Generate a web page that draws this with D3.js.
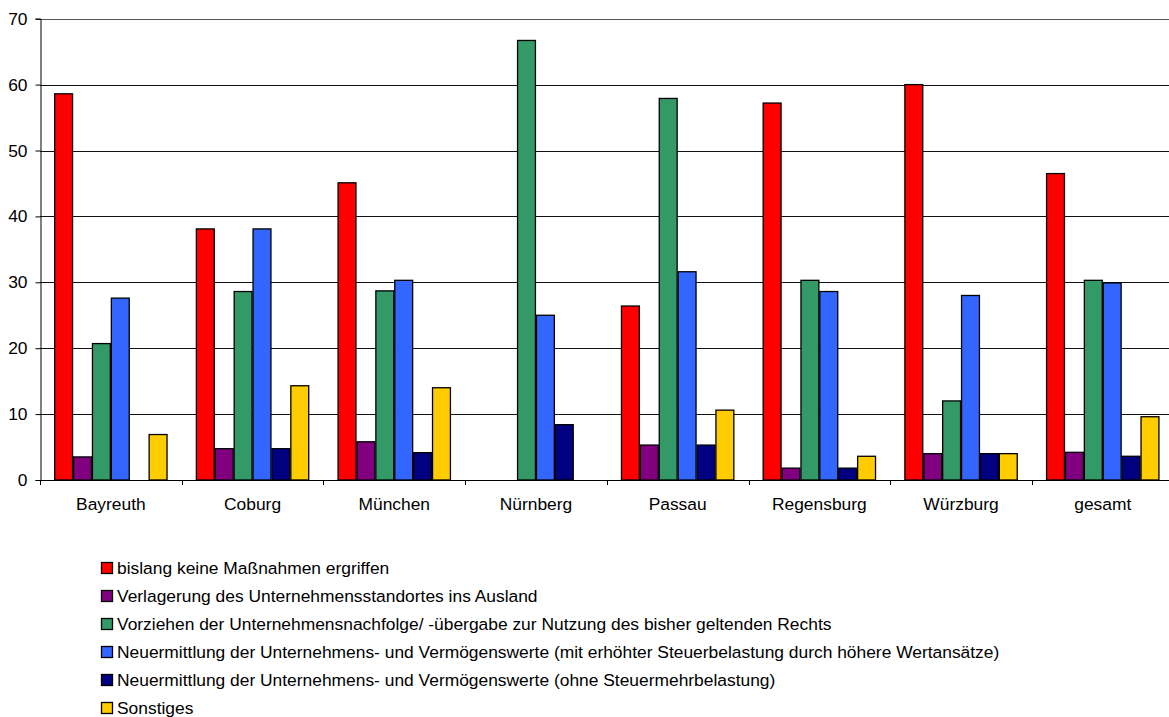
<!DOCTYPE html>
<html><head><meta charset="utf-8">
<script src="https://cdn.jsdelivr.net/npm/d3@7"></script>
<style>
html,body{margin:0;padding:0;background:#fff;}
svg{display:block;font-family:"Liberation Sans",Arial,sans-serif;}
</style></head>
<body><svg id="chart" width="1169" height="717"></svg>
<script>
const categories = ["Bayreuth","Coburg","München","Nürnberg","Passau","Regensburg","Würzburg","gesamt"];
const seriesNames = [
  "bislang keine Maßnahmen ergriffen",
  "Verlagerung des Unternehmensstandortes ins Ausland",
  "Vorziehen der Unternehmensnachfolge/ -übergabe zur Nutzung des bisher geltenden Rechts",
  "Neuermittlung der Unternehmens- und Vermögenswerte (mit erhöhter Steuerbelastung durch höhere Wertansätze)",
  "Neuermittlung der Unternehmens- und Vermögenswerte (ohne Steuermehrbelastung)",
  "Sonstiges"
];
const seriesColors = ["#FF0000","#800080","#339966","#3366FF","#000080","#FFCC00"];
const keineMassnahmen = [58.6, 38.1, 45.1, 0, 26.4, 57.2, 60.0, 46.5];
const verlagerung     = [3.5, 4.75, 5.8, 0, 5.3, 1.8, 4.0, 4.2];
const vorziehen       = [20.7, 28.6, 28.7, 66.7, 57.9, 30.3, 12.0, 30.3];
const neuMitSteuer    = [27.6, 38.1, 30.3, 25.0, 31.6, 28.6, 28.0, 29.9];
const neuOhneSteuer   = [0, 4.75, 4.15, 8.4, 5.3, 1.8, 4.0, 3.6];
const sonstiges       = [6.9, 14.3, 14.0, 0, 10.6, 3.6, 4.0, 9.6];
const yTicks = [0,10,20,30,40,50,60,70];

const seriesValues = [keineMassnahmen, verlagerung, vorziehen, neuMitSteuer, neuOhneSteuer, sonstiges];

const svg = d3.select("#chart");
const pLeft = 40, pRight = 1173.6, pTop = 18.7, pBottom = 480;
const fs = "17.4px";

const x0 = d3.scaleBand().domain(categories).range([pLeft, pRight]).paddingInner(0.2).paddingOuter(0.1);
const x1 = d3.scaleBand().domain(d3.range(seriesNames.length)).range([0, x0.bandwidth()]).padding(0);
const y = d3.scaleLinear().domain([0,70]).range([pBottom, pTop]);
const step = x0.step();

// gridlines
svg.append("g").selectAll("line").data(yTicks.filter(d=>d>0)).join("line")
  .attr("x1", pLeft).attr("x2", 1169)
  .attr("y1", d=>Math.round(y(d))+0.5).attr("y2", d=>Math.round(y(d))+0.5)
  .attr("stroke", d=> d===70 ? "#555" : "#111").attr("stroke-width",1);

// y axis
const yAxis = svg.append("g").attr("transform", `translate(${pLeft+0.5},0)`)
  .call(d3.axisLeft(y).tickValues(yTicks).tickSize(5).tickPadding(8));
yAxis.select(".domain").attr("stroke","#000");
yAxis.selectAll(".tick line").attr("stroke","#000");
yAxis.selectAll(".tick text").attr("font-size",fs).attr("fill","#000")
  .attr("font-family","Liberation Sans, Arial, sans-serif");

// bars
const groups = svg.append("g").selectAll("g").data(categories).join("g")
  .attr("transform", d=>`translate(${x0(d)},0)`);
groups.selectAll("rect").data((c,ci)=>seriesValues.map((arr,si)=>({si, v: arr[ci]})).filter(d=>d.v>0)).join("rect")
  .attr("x", d=>x1(d.si)+0.5)
  .attr("width", x1.bandwidth()-1)
  .attr("y", d=>y(d.v))
  .attr("height", d=>pBottom - y(d.v))
  .attr("fill", d=>seriesColors[d.si])
  .attr("stroke","#000").attr("stroke-width",1.3);

// x axis
svg.append("line").attr("x1",pLeft).attr("x2",1169).attr("y1",pBottom+0.5).attr("y2",pBottom+0.5).attr("stroke","#000");
const boundaries = d3.range(categories.length+1).map(i=>pLeft + i*step);
svg.append("g").selectAll("line").data(boundaries).join("line")
  .attr("x1", d=>Math.round(d)+0.5).attr("x2", d=>Math.round(d)+0.5)
  .attr("y1", pBottom).attr("y2", pBottom+5).attr("stroke","#000");
svg.append("g").selectAll("text").data(categories).join("text")
  .attr("x", d=>x0(d)+x0.bandwidth()/2).attr("y", 510)
  .attr("text-anchor","middle").attr("font-size",fs).attr("fill","#000")
  .text(d=>d);

// legend
const legend = svg.append("g").selectAll("g").data(seriesNames).join("g")
  .attr("transform",(d,i)=>`translate(101,${568 + i*28})`);
legend.append("rect").attr("x",0.5).attr("y",-5.5).attr("width",11).attr("height",11)
  .attr("fill",(d,i)=>seriesColors[i]).attr("stroke","#000").attr("stroke-width",1.3);
legend.append("text").attr("x",16).attr("y",0).attr("dy","0.35em")
  .attr("font-size",fs).attr("fill","#000").text(d=>d);
</script></body></html>
